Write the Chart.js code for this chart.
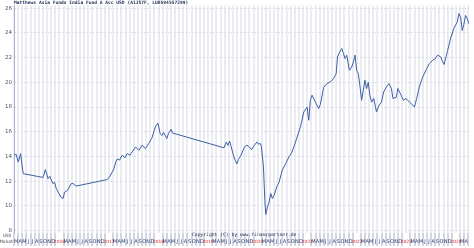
<!DOCTYPE html>
<html><head><meta charset="utf-8">
<script src="https://cdn.jsdelivr.net/npm/chart.js@4/dist/chart.umd.min.js"></script>
<style>
html,body{margin:0;padding:0;background:#fff;}
#wrap{position:relative;width:474px;height:248px;overflow:hidden;}
canvas{position:absolute;left:0;top:0;}
.t{position:absolute;white-space:nowrap;font-family:"DejaVu Sans Mono",monospace;color:#1a2a50;line-height:1;}
</style></head><body>
<div id="wrap"><canvas id="c" width="474" height="248"></canvas>
<div class="t" style="left:14px;top:1px;font-size:4.6px;font-weight:bold;">Matthews Asia Funds India Fund A Acc USD (A1JS7F, LU0594557299)</div>
<div class="t" style="left:192px;top:233px;font-size:4.7px;">Copyright (C) by www.finanzpartner.de</div>
<div class="t" style="left:3px;top:234px;font-size:4.5px;color:#444;">USD</div>
<div class="t" style="left:0px;top:240px;font-size:4.5px;color:#444;">Monat</div>
</div>
<script>
const dates = [
"2015-03-04","2015-03-15","2015-04-02","2015-04-19","2015-05-04","2015-05-09","2015-10-02","2015-10-19","2015-10-28","2015-11-08",
"2015-11-20","2015-12-02","2015-12-14","2015-12-26","2016-01-08","2016-01-27","2016-02-14","2016-02-28","2016-03-08","2016-04-01",
"2016-04-26","2016-05-12","2016-06-02","2017-01-19","2017-02-08","2017-02-25","2017-03-07","2017-03-20","2017-04-01","2017-04-17",
"2017-05-07","2017-05-27","2017-06-13","2017-07-03","2017-07-19","2017-08-14","2017-09-08","2017-10-01","2017-10-26","2017-11-19",
"2017-12-13","2018-01-08","2018-01-26","2018-02-13","2018-02-25","2018-03-07","2018-04-01","2018-04-13","2018-05-03","2018-05-12",
"2019-05-26","2019-06-13","2019-06-25","2019-07-07","2019-07-19","2019-08-01","2019-08-17","2019-08-30","2019-09-11","2019-09-30",
"2019-10-25","2019-11-13","2019-12-01","2019-12-17","2020-01-07","2020-01-26","2020-02-07","2020-02-20","2020-02-28","2020-03-13",
"2020-03-23","2020-03-30","2020-04-12","2020-04-24","2020-05-06","2020-05-18","2020-06-01","2020-06-19","2020-07-07","2020-07-30",
"2020-08-24","2020-09-18","2020-10-05","2020-10-24","2020-11-18","2020-12-12","2021-01-06","2021-01-30","2021-02-12","2021-02-24",
"2021-03-06","2021-03-30","2021-04-24","2021-05-06","2021-05-30","2021-06-24","2021-07-18","2021-08-12","2021-09-01","2021-09-11",
"2021-09-26","2021-10-12","2021-10-24","2021-11-06","2021-11-18","2021-12-07","2021-12-24","2022-01-06","2022-01-18","2022-01-30",
"2022-02-12","2022-02-23","2022-03-06","2022-03-18","2022-03-30","2022-04-12","2022-04-24","2022-05-06","2022-05-18","2022-06-04",
"2022-06-24","2022-07-13","2022-07-30","2022-08-16","2022-09-06","2022-09-25","2022-10-12","2022-10-24","2022-11-18","2022-11-29",
"2022-12-23","2023-01-10","2023-01-29","2023-02-23","2023-03-18","2023-03-29","2023-04-16","2023-05-05","2023-05-30","2023-06-23",
"2023-07-17","2023-08-12","2023-08-30","2023-09-18","2023-10-11","2023-10-24","2023-11-05","2023-11-29","2023-12-23","2024-01-17",
"2024-02-11","2024-02-23","2024-03-05","2024-03-17","2024-03-29","2024-04-11","2024-04-23","2024-05-05"];
const values = [
14.1,14.2,13.55,14.23,12.9,12.6,12.3,12.94,12.6,12.2,
12.4,12.1,11.8,11.9,11.4,11.0,10.67,10.6,11.1,11.26,
11.8,11.8,11.6,12.13,12.4,12.75,13.0,13.55,13.8,13.7,
14.1,13.9,14.23,14.1,14.36,14.77,14.5,14.9,14.64,15.04,
15.5,16.4,16.7,15.85,15.7,15.95,15.45,15.85,16.2,15.9,
14.7,15.17,14.9,15.25,14.77,14.23,13.7,13.4,13.75,14.1,
14.77,14.9,14.77,14.55,14.9,15.17,15.0,15.05,14.8,13.15,
10.45,9.3,9.9,10.3,11.0,10.6,10.86,11.53,11.94,12.9,
13.4,13.96,14.23,14.77,15.58,16.4,17.6,18.0,16.93,18.6,
18.96,18.4,17.88,18.2,19.6,19.9,20.03,20.3,20.7,22.06,
22.46,22.74,22.33,21.93,22.2,20.98,21.25,21.65,22.2,20.98,
20.7,19.77,18.55,19.36,20.17,19.5,20.0,18.96,18.4,18.7,
17.6,18.15,18.4,19.22,19.63,19.9,19.5,18.69,18.8,19.5,
18.96,18.55,18.7,18.4,18.15,18.0,18.69,19.63,20.44,20.98,
21.5,21.8,21.9,22.2,22.06,21.65,21.45,22.5,23.6,24.4,
24.9,25.57,25.3,24.2,24.7,25.43,25.17,24.76];
const yTicks = [8,10,12,14,16,18,20,22,24,26];
const monthLetters = ["J","F","M","A","M","J","J","A","S","O","N","D"];
const startYear = 2015, startMonth = 3;   // axis starts March 2015
const monthCount = 110.3;                 // axis length in months

function monthPos(s){
  const p = s.split("-").map(Number);
  return (p[0]-startYear)*12 + (p[1]-startMonth) + (p[2]-1)/30;
}
function calMonth(m){ return ((m + startMonth - 1) % 12 + 12) % 12; }

const points = dates.map((d,i)=>({x:monthPos(d), y:values[i]}));

new Chart(document.getElementById("c"), {
  type: "line",
  data: { datasets: [{ data: points, borderColor: "#3f5ea6", borderWidth: 1, pointRadius: 0, tension: 0, fill: false }] },
  options: {
    responsive: false, animation: false, devicePixelRatio: 1,
    layout: { padding: { top: 5, right: 0, left: 0, bottom: 0 } },
    plugins: { legend: { display: false }, tooltip: { enabled: false } },
    scales: {
      x: {
        type: "linear", position: "bottom", min: 0, max: monthCount,
        afterFit: s => { s.height = 0; },
        afterBuildTicks: s => { const t=[]; for (let m=0;m<=Math.floor(monthCount);m++) t.push({value:m}); s.ticks=t; },
        ticks: { display: false },
        grid: { color: "#ebecf2", lineWidth: 2, drawTicks: true, tickLength: 13, tickWidth: 1,
          tickColor: c => (calMonth(c.tick.value) === 1 ? "rgba(0,0,0,0)" : "#a4acc4") },
        border: { display: false }
      },
      xl: {
        type: "linear", position: "bottom", min: 0, max: monthCount,
        afterFit: s => { s.height = 15; },
        afterBuildTicks: s => {
          const t=[];
          for (let m=0;m<=Math.floor(monthCount);m++){
            const cm = calMonth(m);
            if (cm === 0) t.push({value:m+1});
            else if (cm !== 1 && m+0.5 <= monthCount) t.push({value:m+0.5});
          }
          s.ticks=t;
        },
        ticks: {
          autoSkip: false, maxRotation: 0, padding: 6,
          font: c => ({ family: "DejaVu Sans", size: (c.tick && Number.isInteger(c.tick.value)) ? 4.4 : 5 }),
          color: c => (Number.isInteger(c.tick.value) ? "#d01818" : "#2a3a6a"),
          callback: v => Number.isInteger(v)
            ? String(startYear + Math.floor((v - 1 + startMonth - 1) / 12))
            : monthLetters[calMonth(Math.floor(v))]
        },
        grid: { display: false, drawTicks: false },
        border: { display: false }
      },
      y: {
        type: "linear", position: "left", min: 7.8, max: 26.24,
        afterFit: s => { s.width = 14; },
        afterBuildTicks: s => { s.ticks = yTicks.map(v=>({value:v})); },
        ticks: { padding: 2, font: { family: "DejaVu Sans", size: 5.5 }, color: "#505068" },
        grid: { color: "#cfd2dc", lineWidth: 1, drawTicks: false },
        border: { display: true, color: "#a8b4d4", width: 1, dash: [1,2] }
      }
    }
  }
});
</script>
</body></html>
